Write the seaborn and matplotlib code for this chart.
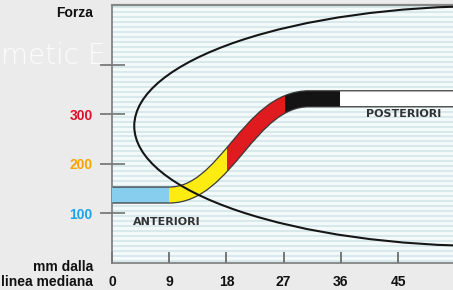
import numpy as np
import matplotlib
matplotlib.use("Agg")
import matplotlib.pyplot as plt
import seaborn as sns
from matplotlib.path import Path
from matplotlib.patches import PathPatch, Ellipse, Rectangle

# axis ticks
mm_ticks = [0, 9, 18, 27, 36, 45]
force_ticks = [100, 200, 300, 400]
force_labels = ["100", "200", "300", ""]
force_colors = ["#1ba3e6", "#f6a400", "#dc0f2a", "#000000"]

# centre line of the wire: straight, one cubic bend, straight
wire_mm = [0, 9, 18, 21.5, 31, 54]
wire_force = [137, 137, 137, 331, 331, 331]

# colour zones along the wire (mm)
zone_edges = [0, 9, 18.1, 27.2, 35.9, 54]
zone_colors = ["#86cdee", "#fdec12", "#e01b1f", "#141414", "#ffffff"]

# arch outline (centre, full width in mm, full height in force units)
arch_center = (59.5, 276)
arch_width = 112
arch_height = 484

sns.set_theme(style="white")
plt.rcParams["font.family"] = ["Liberation Sans", "DejaVu Sans"]

fig = plt.figure(figsize=(4.53, 2.9), dpi=100, facecolor="#ebebeb")
ax = fig.add_axes([112 / 453, 27 / 290, 341 / 453, 258 / 290])
ax.set_facecolor("#f4fafa")
ax.set_xlim(0, 53.65)
ax.set_ylim(0, 520)

# faint watermark
fig.text(0.002, 0.78, "metic E", color="white", alpha=0.85, fontsize=20,
         fontweight="light", family=["DejaVu Sans"], zorder=-1)

# stripes
ax.hlines(np.arange(5, 520, 10), 0, 54, color="#d2e6e8", lw=1.2, zorder=0.3)

# wire band
codes = [Path.MOVETO, Path.LINETO, Path.CURVE4, Path.CURVE4, Path.CURVE4, Path.LINETO]
wire = Path(np.column_stack([wire_mm, wire_force]), codes)
ax.add_patch(PathPatch(wire, fill=False, lw=12.4, edgecolor="#3a3a3a",
                       capstyle="butt", joinstyle="round", zorder=2))
for x0, x1, c in zip(zone_edges[:-1], zone_edges[1:], zone_colors):
    p = PathPatch(wire, fill=False, lw=10.6, edgecolor=c,
                  capstyle="butt", joinstyle="round", zorder=3)
    ax.add_patch(p)
    p.set_clip_path(Rectangle((x0, 0), x1 - x0, 520, transform=ax.transData))

# arch
ax.add_patch(Ellipse(arch_center, arch_width, arch_height, fill=False,
                     edgecolor="#161616", lw=1.5, zorder=4))

ax.text(3.3, 82, "ANTERIORI", fontsize=8, fontweight="bold", color="#333333",
        family=["DejaVu Sans"], va="center", ha="left", zorder=5)
ax.text(39.9, 300, "POSTERIORI", fontsize=8, fontweight="bold", color="#333333",
        family=["DejaVu Sans"], va="center", ha="left", zorder=5)

# ticks
ax.set_xticks(mm_ticks)
ax.set_xticklabels([str(v) for v in mm_ticks], fontweight="bold", fontsize=10)
ax.set_yticks(force_ticks)
ax.set_yticklabels(force_labels, fontweight="bold", fontsize=10)
for lab, c in zip(ax.get_yticklabels(), force_colors):
    lab.set_color(c)
ax.tick_params(axis="x", direction="in", length=8, width=1.1,
               color="#555555", pad=9, labelcolor="#111111")
ax.tick_params(axis="y", direction="inout", length=18, width=1.1,
               color="#666666", pad=5)
ax.xaxis.set_ticks_position("bottom")
ax.yaxis.set_ticks_position("left")
ax.grid(False)

for side in ["left", "bottom"]:
    ax.spines[side].set_color("#7a7a7a")
    ax.spines[side].set_linewidth(1.2)
ax.spines["top"].set_color("#888888")
ax.spines["top"].set_linewidth(1.6)
ax.spines["right"].set_visible(False)

fig.text(93 / 453, 0.955, "Forza", fontsize=10, fontweight="bold",
         ha="right", va="center", color="#111111")
fig.text(93 / 453, 0.079, "mm dalla", fontsize=10, fontweight="bold",
         ha="right", va="center", color="#111111")
fig.text(93 / 453, 0.0276, "linea mediana", fontsize=10, fontweight="bold",
         ha="right", va="center", color="#111111")

fig.savefig("out.png", dpi=100, facecolor=fig.get_facecolor())
